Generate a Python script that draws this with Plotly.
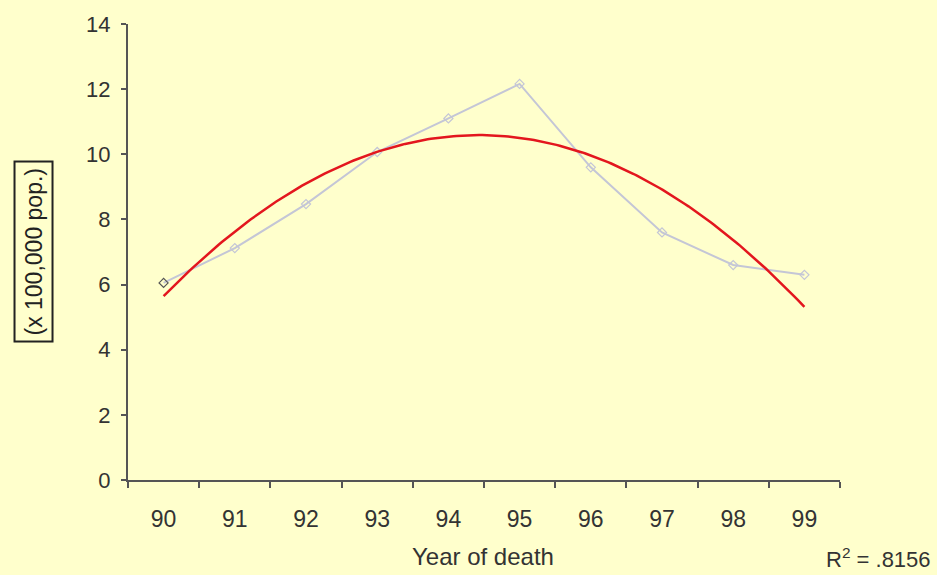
import numpy as np
import plotly.graph_objects as go

years = [90, 91, 92, 93, 94, 95, 96, 97, 98, 99]
year_labels = ["90", "91", "92", "93", "94", "95", "96", "97", "98", "99"]
rates = [6.05, 7.12, 8.47, 10.07, 11.1, 12.16, 9.6, 7.6, 6.6, 6.3]
y_ticks = [0, 2, 4, 6, 8, 10, 12, 14]

coef = np.polyfit(years, rates, 2)
xs = np.linspace(years[0], years[-1], 200)
ys = np.polyval(coef, xs)

fig = go.Figure()
fig.add_trace(go.Scatter(
    x=years, y=rates, mode="lines+markers",
    line=dict(color="#C4C6D6", width=2),
    marker=dict(symbol="diamond-open", size=7,
                color=["#555555"] + ["#C4C6D6"] * (len(years) - 1),
                line=dict(width=1.2)),
    showlegend=False, hoverinfo="skip"))
fig.add_trace(go.Scatter(
    x=xs, y=ys, mode="lines",
    line=dict(color="#E3161E", width=2.5),
    showlegend=False, hoverinfo="skip"))

fig.update_layout(
    width=937, height=575,
    paper_bgcolor="#FFFFCC", plot_bgcolor="#FFFFCC",
    margin=dict(l=128, r=97, t=24, b=95),
    font=dict(family="Liberation Sans, Arial, sans-serif", color="#333333"),
    xaxis=dict(
        range=[89.5, 99.5], tickvals=years, ticktext=year_labels,
        ticks="", showgrid=False, zeroline=False,
        showline=True, linecolor="#555555", linewidth=2,
        tickfont=dict(size=23, color="#333333"),
        ticklabelstandoff=17,
        minor=dict(tickvals=[v + 0.5 for v in [89] + years], ticks="outside",
                   ticklen=6, tickcolor="#555555", tickwidth=1.5, showgrid=False),
    ),
    yaxis=dict(
        range=[0, 14], tickvals=y_ticks, ticks="outside", ticklen=5,
        tickcolor="#555555", tickwidth=1.5,
        showgrid=False, zeroline=False,
        showline=True, linecolor="#555555", linewidth=2,
        tickfont=dict(size=22, color="#333333"),
        ticklabelstandoff=6,
    ),
    annotations=[
        dict(text="(x 100,000 pop.)", textangle=-90, xref="paper", yref="paper",
             x=-0.1327, y=0.50, xanchor="center", yanchor="middle", showarrow=False,
             font=dict(size=23, color="#222222"),
             bordercolor="#222222", borderwidth=2, borderpad=5, bgcolor="#FFFFCC"),
        dict(text="Year of death", xref="paper", yref="paper",
             x=0.4986, y=-0.1667, xanchor="center", yanchor="middle", showarrow=False,
             font=dict(size=24, color="#333333")),
        dict(text="R<sup>2</sup> = .8156", xref="paper", yref="paper",
             x=1.13, y=-0.172, xanchor="right", yanchor="middle", showarrow=False,
             font=dict(size=22, color="#333333")),
    ],
)

fig.write_html("out.html", config={"displayModeBar": False},
               post_script="document.body.style.margin='0';document.body.style.padding='0';document.body.style.overflow='hidden';")
